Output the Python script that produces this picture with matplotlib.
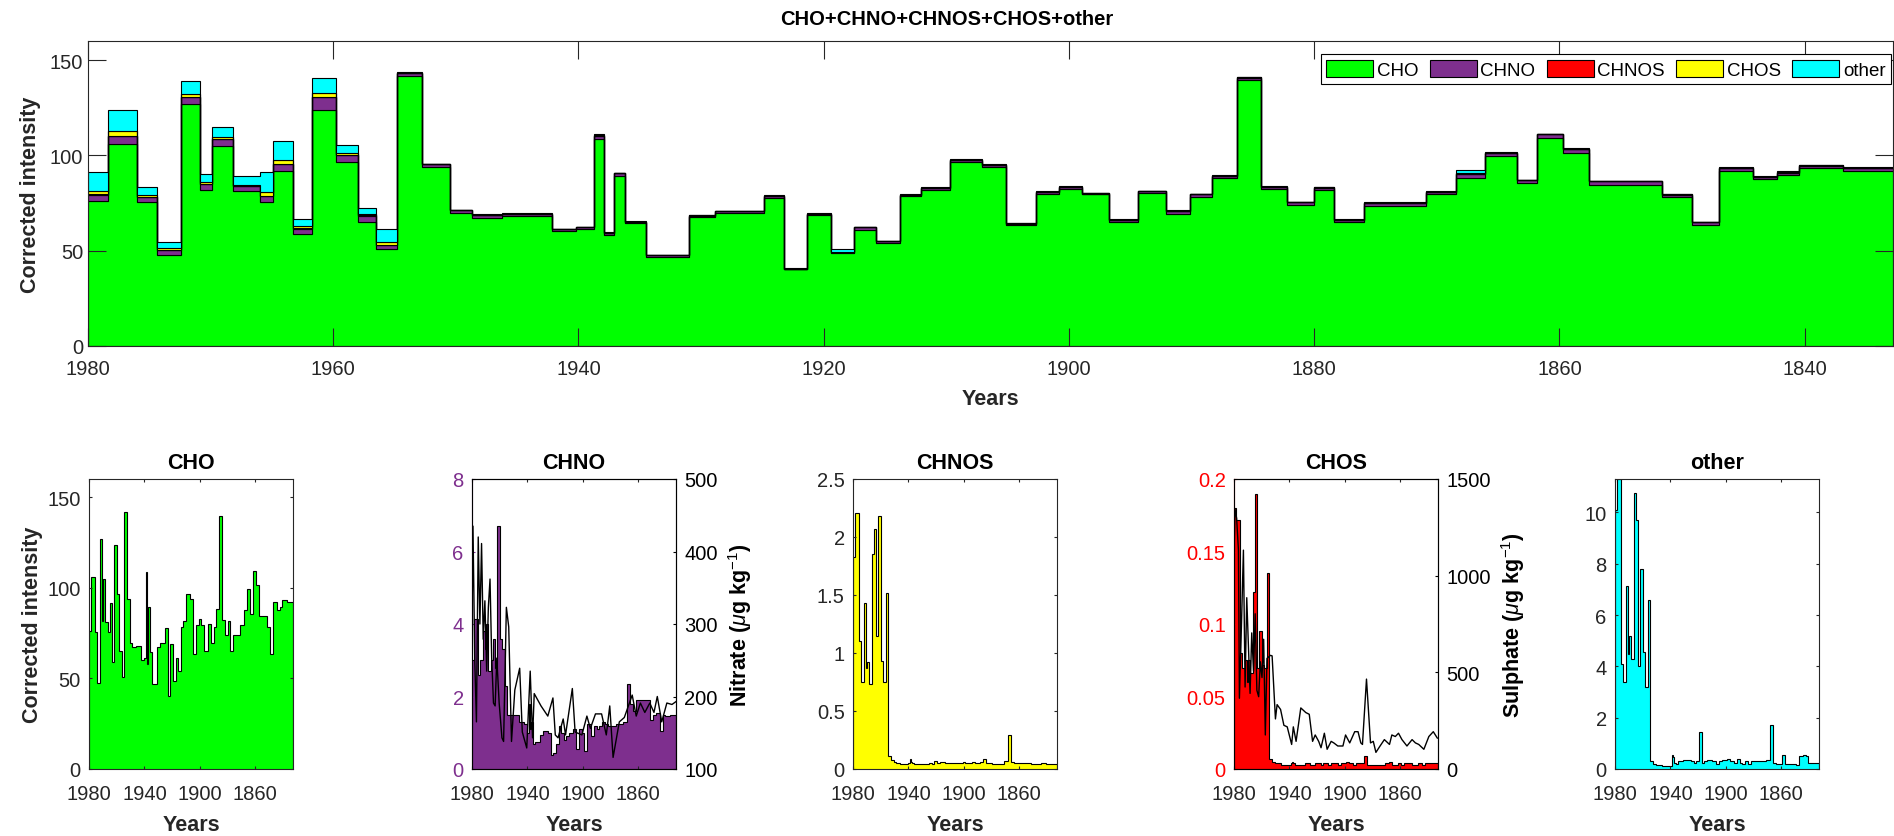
import numpy as np
import matplotlib.pyplot as plt
from matplotlib.ticker import FuncFormatter

plt.rcParams['font.family'] = ['Liberation Sans', 'DejaVu Sans']
plt.rcParams['mathtext.fontset'] = 'custom'
plt.rcParams['mathtext.rm'] = 'Liberation Sans'
plt.rcParams['mathtext.it'] = 'Liberation Sans:italic'
plt.rcParams['mathtext.bf'] = 'Liberation Sans:bold'

# sample boundaries (years, going back in time)
edges = [1980.0, 1978.4, 1976.0, 1974.4, 1972.4, 1970.9, 1969.9, 1968.2, 1966.0, 1964.9,
         1963.3, 1961.7, 1959.8, 1958.0, 1956.5, 1954.8, 1952.8, 1950.5, 1948.7, 1946.2,
         1942.2, 1940.2, 1938.7, 1937.9, 1937.1, 1936.2, 1934.5, 1931.0, 1928.9, 1924.9,
         1923.2, 1921.4, 1919.4, 1917.5, 1915.7, 1913.8, 1912.1, 1909.7, 1907.1, 1905.1,
         1902.7, 1900.8, 1898.9, 1896.7, 1894.4, 1892.1, 1890.1, 1888.3, 1886.3, 1884.3,
         1882.2, 1880.0, 1878.4, 1875.9, 1870.9, 1868.4, 1866.1, 1863.5, 1861.8, 1859.7,
         1857.6, 1851.6, 1849.2, 1847.0, 1844.2, 1842.3, 1840.5, 1836.9, 1832.8]

cho = [76.3, 106.0, 75.6, 47.5, 126.8, 81.6, 104.7, 81.2, 75.6, 91.8,
       58.8, 123.7, 96.5, 65.1, 50.7, 141.6, 93.9, 69.6, 67.4, 68.1,
       60.2, 61.2, 108.6, 58.1, 89.3, 64.4, 46.8, 67.5, 69.6, 77.7,
       40.2, 68.8, 48.8, 61.0, 53.9, 78.6, 81.9, 96.5, 93.9, 63.7,
       79.6, 82.6, 79.5, 64.9, 80.2, 69.5, 78.4, 88.1, 139.5, 82.3,
       74.2, 81.9, 64.9, 73.7, 79.5, 87.9, 99.5, 85.4, 109.1, 101.4,
       84.4, 78.1, 63.5, 91.9, 87.5, 89.5, 93.2, 91.9]

chno = [3.0, 4.15, 2.6, 3.0, 3.8, 3.3, 4.0, 2.7, 3.0, 3.6, 2.8, 6.7, 3.6, 3.3, 2.3,
        1.5, 1.5, 1.5, 1.5, 1.3, 1.25, 1.0, 1.8, 1.1, 1.3,
        0.7, 0.75, 0.95, 1.05, 1.0, 0.4, 0.45, 0.7, 1.2, 1.0,
        0.8, 0.9, 1.0, 1.1, 0.55, 1.1, 1.0, 0.5, 1.25, 0.9,
        1.2, 1.1, 1.2, 1.3, 1.25, 1.2, 1.2, 1.2, 1.25, 1.3,
        2.35, 1.8, 1.6, 1.9, 1.9, 1.9, 1.35, 1.5, 1.55, 1.05,
        1.5, 1.45, 1.5]

chnos = [1.83, 2.21, 1.1, 0.75, 1.43, 0.87, 0.92, 0.73, 1.85, 2.07, 1.15, 2.18, 0.93, 0.75, 1.52,
         0.11, 0.08, 0.06, 0.05, 0.045, 0.045, 0.05, 0.09, 0.06, 0.05,
         0.04, 0.04, 0.045, 0.045, 0.05, 0.04, 0.07, 0.05, 0.06, 0.06,
         0.055, 0.05, 0.05, 0.055, 0.05, 0.055, 0.06, 0.055, 0.05, 0.06,
         0.055, 0.05, 0.06, 0.09, 0.05, 0.05, 0.045, 0.04, 0.045, 0.07,
         0.29, 0.06, 0.05, 0.055, 0.05, 0.05, 0.045, 0.04, 0.045, 0.05,
         0.05, 0.045, 0.04]

chos = [0.18, 0.172, 0.08, 0.07, 0.075, 0.06, 0.075, 0.066, 0.122, 0.19, 0.07, 0.095, 0.072, 0.07, 0.135,
        0.007, 0.005, 0.004, 0.004, 0.003, 0.003, 0.003, 0.004, 0.005, 0.004,
        0.003, 0.003, 0.003, 0.004, 0.003, 0.003, 0.004, 0.004, 0.003, 0.004,
        0.004, 0.003, 0.004, 0.004, 0.003, 0.004, 0.004, 0.005, 0.004, 0.003,
        0.004, 0.004, 0.004, 0.009, 0.003, 0.003, 0.003, 0.003, 0.003, 0.004,
        0.005, 0.003, 0.003, 0.004, 0.003, 0.004, 0.003, 0.003, 0.004, 0.003,
        0.004, 0.004, 0.004]

other = [10.1, 11.3, 4.1, 3.4, 7.15, 4.5, 5.2, 4.3, 10.75, 9.7, 4.0, 7.8, 4.55, 3.2, 6.6,
         0.33, 0.2, 0.15, 0.15, 0.12, 0.1, 0.1, 0.55, 0.45, 0.25,
         0.2, 0.3, 0.35, 0.35, 0.3, 0.25, 0.3, 1.45, 0.25, 0.3,
         0.35, 0.35, 0.3, 0.2, 0.3, 0.35, 0.35, 0.4, 0.3, 0.25,
         0.4, 0.25, 0.2, 0.3, 0.2, 0.3, 0.3, 0.3, 0.3, 0.35,
         1.7, 0.25, 0.2, 0.2, 0.55, 0.2, 0.18, 0.15, 0.5, 0.55,
         0.5, 0.25, 0.25]

nitrate_years = [1980.0, 1979.3, 1978.0, 1976.8, 1975.5, 1974.3, 1973.1, 1971.9, 1970.7, 1969.4,
                 1968.2, 1967.0, 1965.8, 1964.5, 1963.3, 1962.1, 1960.4, 1958.4, 1957.2, 1955.2,
                 1953.5, 1951.5, 1949.1, 1945.6, 1943.7, 1940.5, 1938.0, 1936.3, 1935.1, 1930.2,
                 1925.3, 1921.6, 1919.9, 1917.9, 1914.2, 1912.5, 1907.6, 1905.6, 1900.7, 1897.1,
                 1894.6, 1890.9, 1886.5, 1883.1, 1880.6, 1878.2, 1873.7, 1870.1, 1864.4, 1861.5,
                 1858.5, 1855.3, 1851.7, 1848.7, 1846.3, 1843.1, 1839.4, 1835.7, 1832.8]
nitrate = [300, 435, 248, 165, 420, 300, 411, 279, 332, 235,
           323, 362, 253, 191, 187, 253, 191, 143, 138, 323,
           296, 138, 209, 239, 151, 129, 235, 143, 204, 187,
           173, 198, 147, 143, 169, 147, 211, 151, 147, 173,
           156, 176, 176, 147, 187, 116, 165, 171, 202, 173,
           191, 178, 191, 178, 200, 165, 191, 189, 193]

sulphate_years = [1980.0, 1979.3, 1978.1, 1976.8, 1976.1, 1974.9, 1973.2, 1972.0, 1970.8, 1969.6,
                  1968.4, 1967.2, 1965.9, 1964.7, 1963.5, 1962.2, 1961.0, 1959.8, 1958.6, 1957.4,
                  1956.2, 1954.9, 1953.7, 1952.5, 1950.1, 1948.9, 1946.4, 1944.0, 1941.6, 1938.4,
                  1937.2, 1935.2, 1931.8, 1928.2, 1925.7, 1923.3, 1921.4, 1918.9, 1917.2, 1914.8,
                  1912.8, 1909.9, 1908.0, 1905.1, 1901.4, 1899.5, 1896.5, 1892.9, 1890.5, 1888.5,
                  1887.3, 1884.4, 1881.5, 1879.5, 1877.6, 1874.6, 1871.5, 1867.8, 1866.1, 1863.6,
                  1861.3, 1858.8, 1855.2, 1851.5, 1849.1, 1846.7, 1843.0, 1839.4, 1836.2, 1833.3]
sulphate = [1100, 1345, 1297, 1132, 366, 671, 1132, 424, 886, 638,
            391, 704, 506, 803, 407, 374, 555, 473, 671, 176,
            572, 580, 588, 585, 259, 333, 308, 226, 218, 127,
            218, 143, 316, 292, 283, 143, 176, 143, 110, 185,
            102, 143, 135, 119, 119, 176, 135, 193, 193, 135,
            127, 465, 135, 143, 86, 119, 152, 127, 176, 168,
            185, 152, 119, 152, 135, 127, 102, 168, 193, 160]

GREEN = (0, 1, 0)
PURPLE = '#7E2F8E'
RED = (1, 0, 0)
YELLOW = (1, 1, 0)
CYAN = (0, 1, 1)
AXC = '#262626'
XLIM = (1980, 1832.8)

W, H = 1894, 837
fig = plt.figure(figsize=(W / 100, H / 100), dpi=100)


def add_px(l, t, r, b):
    return fig.add_axes([l / W, 1 - b / H, (r - l) / W, (b - t) / H])


def style(ax, ticklen, fs, xpad, ypad):
    ax.tick_params(direction='in', length=ticklen, width=0.8, labelsize=fs,
                   colors=AXC, top=True, right=True)
    ax.tick_params(axis='x', pad=xpad)
    ax.tick_params(axis='y', pad=ypad)
    for s in ax.spines.values():
        s.set_color(AXC)
        s.set_linewidth(0.8)


e = np.array(edges)[::-1]  # stairs wants ascending edges

# ---- top: stacked stairs ----
ax = add_px(88, 42, 1893, 347)
layers = [(cho, GREEN, 'CHO'), (chno, PURPLE, 'CHNO'), (chos, RED, 'CHNOS'),
          (chnos, YELLOW, 'CHOS'), (other, CYAN, 'other')]
base = np.zeros(len(cho))
for vals, c, lab in layers:
    top = base + np.array(vals)
    ax.stairs(top[::-1], e, baseline=base[::-1], fill=True, facecolor=c,
              edgecolor='k', linewidth=0.8, label=lab)
    base = top
ax.set_xlim(XLIM)
ax.set_ylim(0, 160)
ax.set_xticks(np.arange(1980, 1839, -20))
ax.set_yticks([0, 50, 100, 150])
style(ax, 13, 14.5, 9.5, 3.5)
ax.set_title('CHO+CHNO+CHNOS+CHOS+other', fontsize=14.5, fontweight='bold', pad=12, x=0.476)
ax.set_xlabel('Years', fontsize=15.5, fontweight='bold', color=AXC, labelpad=7)
ax.set_ylabel('Corrected intensity', fontsize=15.5, fontweight='bold', color=AXC, labelpad=6)
leg = ax.legend(loc='upper right', bbox_to_anchor=(0.9989, 0.957), borderaxespad=0,
                ncol=5, fontsize=13.5, fancybox=False, edgecolor='k', framealpha=1,
                handlelength=2.5, handleheight=1.0, handletextpad=0.2,
                columnspacing=0.6, borderpad=0.3)
leg.get_frame().set_linewidth(0.8)

# ---- bottom: single components ----
lefts = [89, 472, 853, 1234, 1615]
pw = 204
fmt = FuncFormatter(lambda v, p: f'{v:g}')


def panel(i, vals, color, ylim, yticks, title):
    a = add_px(lefts[i], 480, lefts[i] + pw, 770)
    a.stairs(np.array(vals)[::-1], e, baseline=0, fill=True, facecolor=color,
             edgecolor='k', linewidth=0.8)
    a.set_xlim(XLIM)
    a.set_ylim(*ylim)
    a.set_xticks([1980, 1940, 1900, 1860])
    a.set_yticks(yticks)
    a.yaxis.set_major_formatter(fmt)
    style(a, 2.2, 14.5, 11, 6)
    a.set_title(title, fontsize=15.5, fontweight='bold', pad=8)
    a.set_xlabel('Years', fontsize=15.5, fontweight='bold', color=AXC, labelpad=8)
    return a


def right_axis(a, years, vals, ylim, yticks, label):
    t = a.twinx()
    t.plot(years, vals, color='k', lw=1)
    t.set_xlim(XLIM)
    t.set_ylim(*ylim)
    t.set_yticks(yticks)
    t.tick_params(direction='in', length=2.2, width=0.8, labelsize=14.5, colors='k', pad=6)
    t.spines['right'].set_color('k')
    t.set_ylabel(label, fontsize=15.5, fontweight='bold', labelpad=6)
    return t


a1 = panel(0, cho, GREEN, (0, 160), [0, 50, 100, 150], 'CHO')
a1.set_ylabel('Corrected intensity', fontsize=15.5, fontweight='bold', color=AXC, labelpad=3)

a2 = panel(1, chno, PURPLE, (0, 8), [0, 2, 4, 6, 8], 'CHNO')
a2.tick_params(axis='y', right=False, colors=PURPLE)
a2.spines['left'].set_color(PURPLE)
right_axis(a2, nitrate_years, nitrate, (100, 500), [100, 200, 300, 400, 500],
           r'Nitrate ($\mu$g kg$^{-1}$)')

a3 = panel(2, chnos, YELLOW, (0, 2.5), [0, 0.5, 1, 1.5, 2, 2.5], 'CHNOS')

a4 = panel(3, chos, RED, (0, 0.2), [0, 0.05, 0.1, 0.15, 0.2], 'CHOS')
a4.tick_params(axis='y', right=False, colors=RED)
a4.spines['left'].set_color(RED)
right_axis(a4, sulphate_years, sulphate, (0, 1500), [0, 500, 1000, 1500],
           r'Sulphate ($\mu$g kg$^{-1}$)')

a5 = panel(4, other, CYAN, (0, max(other)), [0, 2, 4, 6, 8, 10], 'other')

fig.savefig('out.png', dpi=100)
